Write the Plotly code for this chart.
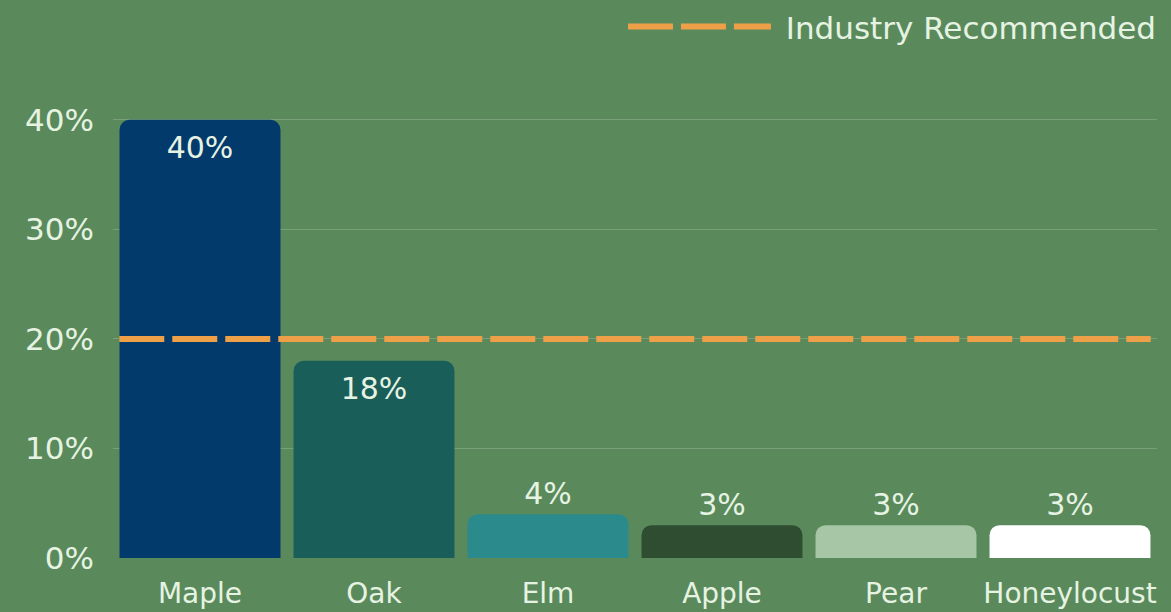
import plotly.graph_objects as go

categories = ["Maple", "Oak", "Elm", "Apple", "Pear", "Honeylocust"]
shares = [40, 18, 4, 3, 3, 3]
bar_colors = ["#023a6b", "#1a5e5a", "#2a8a8c", "#2f4d31", "#a7c6a5", "#ffffff"]
label_positions = ["inside", "inside", "outside", "outside", "outside", "outside"]
recommended = 20
recommended_name = "Industry Recommended"
y_ticks = [0, 10, 20, 30, 40]
y_tick_labels = [f"{v}%" for v in y_ticks]
bar_labels = [f"{v}%" for v in shares]

BG = "#5a8a5c"
TXT = "#e6f3e2"
FONT = "DejaVu Sans, sans-serif"

fig = go.Figure()
fig.add_trace(go.Bar(
    x=categories, y=shares, text=bar_labels,
    marker=dict(color=bar_colors, line=dict(width=0), cornerradius=10),
    texttemplate="%{text}", textposition=label_positions,
    insidetextanchor="end", constraintext="none",
    textfont=dict(size=30, color=TXT, family=FONT),
    cliponaxis=False, showlegend=False, hoverinfo="skip",
))

fig.add_shape(type="line", xref="x domain", yref="y", x0=0.006, x1=0.994,
              y0=recommended, y1=recommended,
              line=dict(color="#eda047", width=6, dash="45px,8px"),
              layer="above", showlegend=True, name="\u00a0" + recommended_name)

fig.update_layout(
    width=1171, height=612,
    paper_bgcolor=BG, plot_bgcolor=BG,
    margin=dict(l=113, r=14, t=65, b=54, autoexpand=False),
    bargap=0.075,
    font=dict(family=FONT, color=TXT, size=28),
    legend=dict(xref="container", yref="container", x=0.532, y=0.956,
                xanchor="left", yanchor="middle", orientation="h",
                itemwidth=143, font=dict(size=31, color=TXT, family=FONT),
                bgcolor="rgba(0,0,0,0)"),
    xaxis=dict(showgrid=False, showline=False, ticks="", ticklabelstandoff=16,
               automargin=False, tickfont=dict(size=28, color=TXT, family=FONT)),
    yaxis=dict(range=[0, 45], tickvals=y_ticks, ticktext=y_tick_labels,
               showgrid=True, gridcolor="rgba(255,255,255,0.18)", gridwidth=1,
               zeroline=False, showline=False, ticks="", ticklabelstandoff=18,
               automargin=False, tickfont=dict(size=31, color=TXT, family=FONT)),
)

fig.write_html("out.html", config={"displayModeBar": False},
               post_script="document.body.style.margin='0px';document.body.style.overflow='hidden';")
